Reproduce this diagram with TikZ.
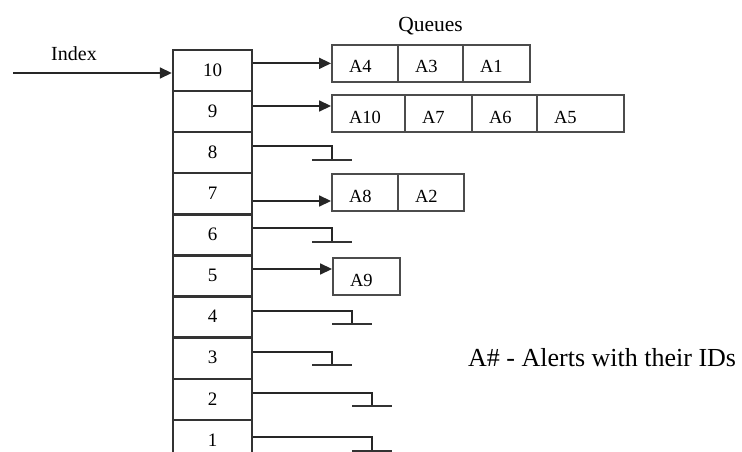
\documentclass[tikz,border=0pt]{standalone}
\usepackage{fontspec}
\setmainfont{Liberation Serif}
\usetikzlibrary{arrows.meta}

\begin{document}
\begin{tikzpicture}[x=1pt,y=-1pt,
  cell/.style={draw=black!80,line width=2.4pt,minimum width=79pt,minimum height=41.1pt,
    inner sep=0pt,font=\fontsize{19}{19}\selectfont,text depth=1pt},
  qbox/.style={draw=black!70,line width=1.9pt,inner ysep=0pt,inner xsep=0pt,
    text height=28pt,text depth=9pt,font=\fontsize{18.5}{18.5}\selectfont,align=left},
  link/.style={line width=1.7pt,black!85},
  ptr/.style={link,-{Triangle[length=12pt,width=11pt]}},
  earth/.style={line width=1.7pt,black!80}
]
\useasboundingbox (0,0) rectangle (742,452);

% index table, top row 10 down to row 1
\foreach \n [count=\i from 0] in {10,9,...,1}
  \node[cell] (r\n) at (212.5,{70.5+41.1*\i}) {\n};

% queue box: #1 name, #2 left, #3 right, #4 top, #5 bottom, #6 text
\newcommand{\qbx}[6]{%
  \node[qbox,minimum width={#3-#2},text width={#3-#2}] (#1)
    at ({(#2+#3)/2},{(#4+#5)/2}) {\hspace*{17pt}#6\hfill};}

\qbx{a4}{332}{398}{45}{81.7}{A4}
\qbx{a3}{398}{463}{45}{81.7}{A3}
\qbx{a1}{463}{530}{45}{81.7}{A1}

\qbx{a10}{332}{405}{95}{132}{A10}
\qbx{a7}{405}{472}{95}{132}{A7}
\qbx{a6}{472}{537}{95}{132}{A6}
\qbx{a5}{537}{624}{95}{132}{A5}

\qbx{a8}{332}{398}{174}{211.5}{A8}
\qbx{a2}{398}{464}{174}{211.5}{A2}

\qbx{a9}{333}{400}{258}{295}{A9}

% labels
\node[font=\fontsize{20}{20}\selectfont,anchor=base] (idx) at (74,61) {Index};
\node[font=\fontsize{21.5}{21.5}\selectfont,anchor=base] (qs) at (430.5,32) {Queues};
\node[font=\fontsize{26}{26}\selectfont,anchor=base west,inner sep=0pt] (note) at (468,366)
  {A\# - Alerts with their IDs};

% incoming index pointer
\coordinate (in) at (13,73);
\draw[ptr] (in) -- (r10.west |- in);

% pointers to non-empty queues
\draw[ptr] (r10.east |- a4.west) -- (a4.west);
\draw[ptr] (r9.east |- 0,106) -- (a10.west |- 0,106);
\draw[ptr] (r7.east |- 0,201) -- (a8.west |- 0,201);
\draw[ptr] (r5.east |- 0,269) -- (a9.west |- 0,269);

% empty queues end in a ground symbol
\coordinate (g8) at (332,160);
\coordinate (g6) at (332,242);
\coordinate (g4) at (352,324);
\coordinate (g3) at (332,365);
\coordinate (g2) at (372,406);
\coordinate (g1) at (372,451);
\foreach \n/\y in {8/146,6/228,4/311,3/352,2/393,1/437}{
  \draw[link] (r\n.east |- 0,\y) -| (g\n);
  \draw[earth] ([xshift=-20pt]g\n) -- ([xshift=20pt]g\n);
}
\end{tikzpicture}
\end{document}
